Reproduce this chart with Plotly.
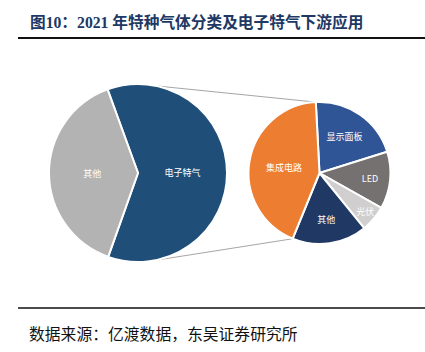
import math
import plotly.graph_objects as go

# Data
left_labels = ["电子特气", "其他"]
left_values = [61, 39]
right_labels = ["显示面板", "LED", "光伏", "其他", "集成电路"]
right_values = [21, 13, 6, 17, 43]

title_text = "图10：2021 年特种气体分类及电子特气下游应用"
source_text = "数据来源：亿渡数据，东吴证券研究所"

W, H = 425, 352
left_colors = ["#1f4e79", "#b3b3b3"]
right_colors = ["#2f5597", "#767171", "#d0cece", "#203864", "#ed7d31"]

# pie geometry in px
Lc, Lr = (138, 173), 89
Rc, Rr = (319.5, 173), 71
L_rot, R_rot = -20, -3


def dom(c, r):
    return dict(x=[(c[0] - r) / W, (c[0] + r) / W],
                y=[1 - (c[1] + r) / H, 1 - (c[1] - r) / H])


fig = go.Figure()
fig.add_trace(go.Pie(labels=left_labels, values=left_values, sort=False,
                     direction="clockwise", rotation=L_rot, domain=dom(Lc, Lr),
                     marker=dict(colors=left_colors, line=dict(color="white", width=2)),
                     textinfo="label", textposition="inside",
                     insidetextorientation="horizontal",
                     textfont=dict(family="Noto Sans CJK SC", size=9, color="white"),
                     showlegend=False, hoverinfo="label+percent"))
fig.add_trace(go.Pie(labels=right_labels, values=right_values, sort=False,
                     direction="clockwise", rotation=R_rot, domain=dom(Rc, Rr),
                     marker=dict(colors=right_colors, line=dict(color="white", width=2)),
                     textinfo="label", textposition="inside",
                     insidetextorientation="horizontal",
                     textfont=dict(family="Noto Sans CJK SC", size=9, color="white"),
                     showlegend=False, hoverinfo="label+percent"))

# connector lines from the left pie to the 集成电路 slice boundaries
tot = sum(right_values)
ic_start = R_rot + 360 * (tot - right_values[-1]) / tot
ic_end = R_rot + 360


def pt(c, r, ang):
    a = math.radians(ang)
    return (c[0] + r * math.sin(a)) / W, 1 - (c[1] - r * math.cos(a)) / H


shapes = []
for la, ra in [(12, ic_end), (169, ic_start)]:
    x0, y0 = pt(Lc, Lr, la)
    x1, y1 = pt(Rc, Rr, ra)
    shapes.append(dict(type="line", xref="paper", yref="paper", x0=x0, y0=y0, x1=x1, y1=y1,
                       line=dict(color="#a6a6a6", width=1), layer="below"))
# rules
shapes.append(dict(type="line", xref="paper", yref="paper", x0=18 / W, x1=1, y0=1 - 38 / H, y1=1 - 38 / H,
                   line=dict(color="#111111", width=2)))
shapes.append(dict(type="line", xref="paper", yref="paper", x0=18 / W, x1=1, y0=1 - 308 / H, y1=1 - 308 / H,
                   line=dict(color="#111111", width=1.5)))

fig.update_layout(
    width=W, height=H, margin=dict(l=0, r=0, t=0, b=0),
    paper_bgcolor="white", plot_bgcolor="white",
    shapes=shapes,
    annotations=[
        dict(text="<b>" + title_text + "</b>", xref="paper", yref="paper", x=28 / W, y=1 - 22 / H,
             xanchor="left", yanchor="middle", showarrow=False,
             font=dict(family="Liberation Serif, Noto Sans CJK SC", size=15.7, color="#203864")),
        dict(text=source_text, xref="paper", yref="paper", x=27 / W, y=1 - 333 / H,
             xanchor="left", yanchor="middle", showarrow=False,
             font=dict(family="Noto Sans CJK SC", size=15.8, color="#111111")),
    ],
)
fig.write_html("out.html")
